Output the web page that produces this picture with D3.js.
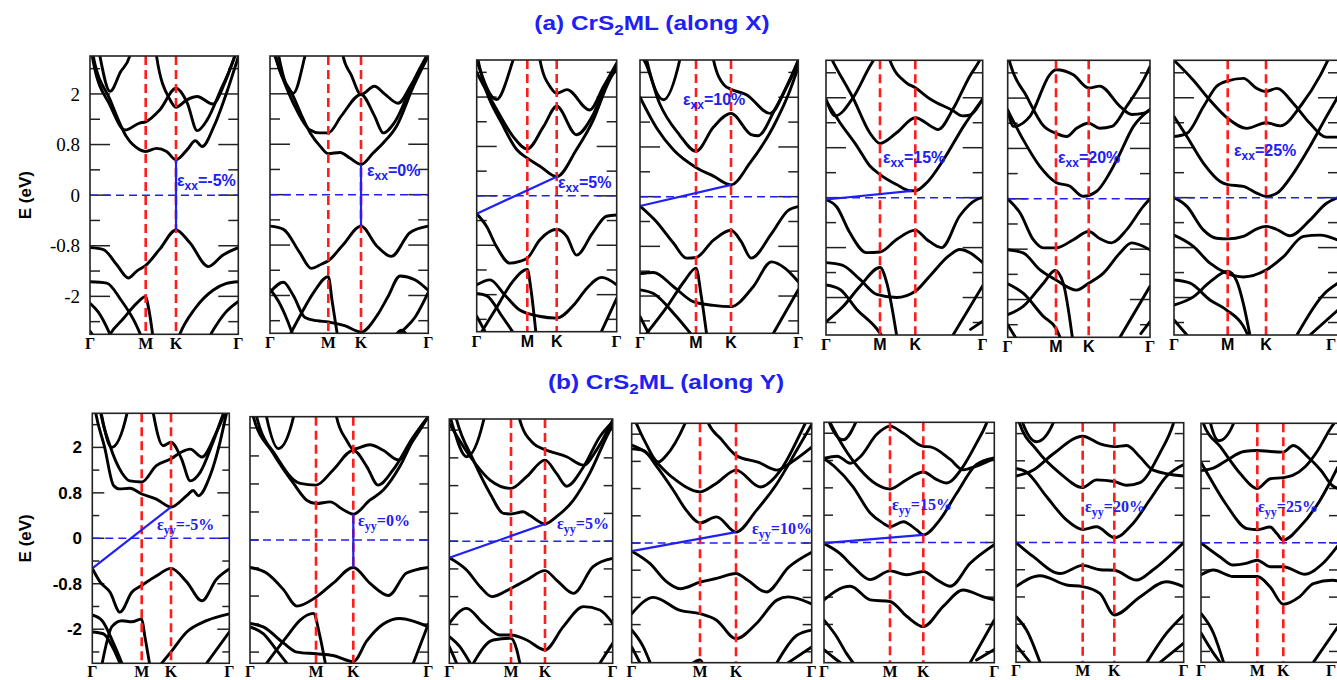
<!DOCTYPE html>
<html><head><meta charset="utf-8">
<script src="https://cdn.jsdelivr.net/npm/d3@7"></script>
<style>body{margin:0;background:#fff}</style>
</head><body>
<svg id="chart" width="1337" height="680"></svg>
<script>
// ---------------- DATA ----------------
const kLabels = ["Γ","M","K","Γ"];
const kPoints = [0,1,2,3];
const tickValues = [1.6,0.8,0,-0.8,-1.6];
const tickLabels = ["2","0.8","0","-0.8","-2"];
const strainA = ["-5%","0%","5%","10%","15%","20%","25%"];
const strainB = ["-5%","0%","5%","10%","15%","20%","25%"];
const titleA = ["(a) CrS","2","ML (along X)"];
const titleB = ["(b) CrS","2","ML (along Y)"];

// bands: each band = list of [k (Γ=0,M=1,K=2,Γ=3), E (eV)]
const bandsXm5 = [
 [[0,-0.83],[0.24,-0.86],[0.48,-1.1],[0.69,-1.31],[0.84,-1.2],[1,-1.11],[1.47,-0.85],[2,-0.55],[2.22,-0.75],[2.52,-1.13],[2.75,-0.95],[3,-0.83]],
 [[0,-1.37],[0.3,-1.39],[0.55,-1.65],[0.8,-2.0],[1,-2.4]],
 [[1.9,-2.5],[2.06,-2.2],[2.3,-1.8],[2.6,-1.5],[2.8,-1.4],[3,-1.37]],
 [[0,-1.71],[0.15,-1.85],[0.36,-2.2],[0.5,-2.5]],
 [[0.2,-2.5],[0.36,-2.2],[0.6,-1.95],[0.85,-1.7],[1,-1.6],[1.08,-1.75],[1.2,-2.1],[1.3,-2.5]],
 [[2.45,-2.4],[2.6,-2.13],[2.8,-1.85],[3,-1.68]],
 [[0,-2.15],[0.12,-2.3]],
 [[0,2.6],[0.06,2.19],[0.36,1.51],[0.65,0.93],[0.89,0.72],[1,0.69],[1.36,0.74],[1.69,0.69],[2,0.56],[2.18,0.72],[2.31,0.86],[2.42,0.77],[2.61,1.09],[2.83,1.67],[3,2.19]],
 [[0,2.5],[0.06,2.1],[0.36,1.42],[0.63,1.03],[0.89,1.14],[1,1.16],[1.47,1.35],[2,1.69],[2.18,1.46],[2.34,1.02],[2.5,1.19],[2.72,1.67],[2.94,2.19],[3,2.4]],
 [[1.25,2.6],[1.36,2.19],[1.8,1.51],[2,1.39],[2.18,1.51],[2.34,1.56],[2.59,1.44],[2.78,1.77],[2.94,2.19],[3,2.35]],
 [[0.1,2.6],[0.18,2.19],[0.36,1.64],[0.55,1.95],[0.71,2.19],[0.78,2.5]]
];
const bandsX0 = [
 [[0,-0.5],[0.23,-0.55],[0.51,-0.92],[0.71,-1.17],[0.89,-1.1],[1,-1.05],[1.46,-0.79],[2,-0.5],[2.23,-0.81],[2.45,-0.98],[2.73,-0.6],[3,-0.5]],
 [[0,-1.55],[0.23,-1.39],[0.4,-1.6],[0.6,-1.95],[0.8,-2.0],[1,-2.02],[1.5,-2.08],[2,-2.18],[2.25,-1.9],[2.4,-1.62],[2.58,-1.29],[2.8,-1.35],[3,-1.52]],
 [[0,-1.5],[0.15,-1.7],[0.3,-2.0],[0.42,-2.3]],
 [[0.3,-2.3],[0.5,-1.95],[0.75,-1.55],[1,-1.3],[1.12,-1.7],[1.3,-2.3]],
 [[2.4,-2.4],[2.6,-2.18],[2.8,-1.95],[3,-1.55]],
 [[2.5,-2.25],[2.6,-2.15],[2.7,-2.25]],
 [[0.05,2.5],[0.1,2.2],[0.4,1.56],[0.69,0.98],[0.86,0.77],[1,0.65],[1.36,0.67],[1.66,0.58],[2,0.48],[2.18,0.66],[2.33,0.82],[2.53,1.09],[2.78,1.72],[3,2.2]],
 [[0,2.45],[0.05,2.3],[0.4,1.45],[0.68,1.03],[0.85,0.98],[1,0.98],[1.4,1.25],[2,1.59],[2.2,1.25],[2.33,0.98],[2.5,1.15],[2.8,1.85],[3,2.25]],
 [[1.4,2.5],[1.45,2.2],[1.7,1.9],[2,1.59],[2.2,1.72],[2.35,1.6],[2.55,1.45],[2.75,1.75],[3,2.2]],
 [[0.1,2.5],[0.15,2.2],[0.4,1.61],[0.6,2.2],[0.7,2.6]]
];
const bandsX5 = [
 [[0,-0.29],[0.2,-0.5],[0.39,-0.82],[0.66,-1.09],[0.85,-1.06],[1,-1.01],[1.43,-0.71],[2,-0.54],[2.17,-0.66],[2.33,-0.96],[2.6,-0.6],[2.83,-0.33],[3,-0.31]],
 [[0.1,-2.2],[0.4,-1.8],[0.7,-1.4],[1,-1.19],[1.12,-1.5],[1.3,-2.25]],
 [[0,-1.44],[0.26,-1.36],[0.55,-1.6],[0.85,-1.85],[1.4,-1.95],[2,-1.98],[2.3,-1.75],[2.5,-1.5],[2.75,-1.32],[3,-1.44]],
 [[0,-1.58],[0.2,-1.62],[0.5,-1.95],[0.75,-2.25]],
 [[0,-1.95],[0.2,-2.25]],
 [[2.72,-2.25],[3,-1.66]],
 [[0,2.3],[0.07,2.04],[0.53,1.12],[0.79,0.75],[1,0.61],[1.43,0.48],[2,0.31],[2.33,0.75],[2.61,1.23],[2.83,1.77],[3,2.1]],
 [[0,2.0],[0.4,1.39],[0.72,0.96],[1,0.76],[1.55,1.12],[2,1.45],[2.33,0.99],[2.6,1.3],[2.83,1.82],[3,2.05]],
 [[0,2.2],[0.39,1.56],[0.72,2.2],[0.8,2.4]],
 [[1.35,2.5],[1.43,2.2],[1.8,1.75],[2,1.66],[2.17,1.72],[2.55,1.39],[2.78,1.77],[3,2.15]]
];
const bandsX10 = [
 [[0,-0.15],[0.27,-0.38],[0.6,-0.75],[0.83,-0.99],[1,-0.98],[1.5,-0.7],[2,-0.54],[2.15,-0.72],[2.3,-0.99],[2.6,-0.6],[2.85,-0.22],[3,-0.16]],
 [[0,-1.24],[0.24,-1.22],[0.6,-1.45],[0.95,-1.69],[1.5,-1.75],[2,-1.77],[2.33,-1.45],[2.6,-1.05],[2.8,-1.15],[3,-1.37]],
 [[0.12,-2.2],[0.5,-1.75],[0.8,-1.35],[1,-1.15],[1.15,-1.6],[1.3,-2.2]],
 [[0,-1.5],[0.24,-1.56],[0.65,-1.93],[0.9,-2.2]],
 [[0,-1.93],[0.18,-2.25]],
 [[2.63,-2.2],[3,-1.5]],
 [[0,1.6],[0.3,1.1],[0.6,0.75],[1,0.47],[1.5,0.33],[2,0.19],[2.28,0.54],[2.63,1.13],[2.88,1.72],[3,2.09]],
 [[0,2.3],[0.1,2.15],[0.35,1.5],[0.7,1.0],[1,0.73],[1.5,1.12],[2,1.34],[2.3,1.0],[2.4,0.98],[2.65,1.4],[2.9,1.95],[3,2.2]],
 [[0.05,2.5],[0.12,2.2],[0.42,1.56],[0.71,2.2],[0.78,2.5]],
 [[1.4,2.5],[1.5,2.2],[1.8,1.8],[2,1.73],[2.23,1.64],[2.58,1.34],[2.83,1.77],[3,2.15]]
];
const bandsX15 = [
 [[0,-0.03],[0.2,-0.15],[0.44,-0.56],[0.75,-0.88],[1,-0.87],[1.47,-0.67],[2,-0.52],[2.17,-0.67],[2.39,-0.8],[2.66,-0.29],[2.91,-0.03],[3,0]],
 [[0,-1.04],[0.3,-1.08],[0.63,-1.31],[0.94,-1.55],[1.47,-1.6],[2,-1.5],[2.22,-1.25],[2.5,-0.93],[2.66,-0.83],[3,-1.04]],
 [[0,-1.99],[0.32,-1.74],[0.63,-1.42],[1,-1.12],[1.19,-1.36],[1.47,-2.2]],
 [[0,-1.4],[0.26,-1.47],[0.57,-1.79],[0.94,-2.1],[1.1,-2.25]],
 [[2.56,-2.2],[3,-1.41]],
 [[2.82,-2.11],[3,-1.98]],
 [[0,1.55],[0.26,1.2],[0.57,0.83],[0.81,0.51],[1,0.37],[1.47,0.21],[1.85,0.11],[2,0.11],[2.17,0.24],[2.42,0.61],[2.72,1.15],[3,1.58]],
 [[0,2.4],[0.14,2.16],[0.51,1.58],[0.81,1.04],[1,0.87],[1.47,1.04],[2,1.28],[2.27,1.12],[2.34,1.09],[2.56,1.42],[2.81,1.95],[2.95,2.19],[3,2.3]],
 [[0,1.58],[0.17,1.31],[0.5,1.6],[0.81,2.1],[0.95,2.3]],
 [[1.2,2.5],[1.28,2.2],[1.75,1.84],[2,1.76],[2.22,1.58],[2.55,1.4],[2.7,1.31],[2.8,1.32],[3,1.58]]
];
const bandsX20 = [
 [[0,0],[0.26,-0.23],[0.53,-0.65],[0.74,-0.78],[1,-0.78],[1.53,-0.65],[2,-0.52],[2.18,-0.63],[2.37,-0.7],[2.62,-0.49],[2.89,-0.12],[3,0]],
 [[0,-0.81],[0.32,-0.86],[0.67,-1.13],[1,-1.29],[1.63,-1.45],[2,-1.34],[2.24,-1.18],[2.51,-0.86],[2.7,-0.7],[3,-0.81]],
 [[0,-1.84],[0.32,-1.71],[0.74,-1.34],[0.98,-1.14],[1.22,-1.34],[1.5,-2.2]],
 [[0,-1.35],[0.32,-1.5],[0.74,-1.87],[1,-2.06],[1.2,-2.3]],
 [[0,-2.0],[0.2,-2.25]],
 [[2.51,-2.2],[3,-1.39]],
 [[2.85,-2.14],[3,-1.95]],
 [[0,1.41],[0.32,0.94],[0.67,0.51],[1,0.26],[1.43,0.2],[1.73,0.06],[1.84,0.04],[2.13,0.12],[2.46,0.62],[2.73,1.15],[3,1.42]],
 [[0,2.3],[0.05,2.15],[0.39,1.63],[0.74,1.16],[1,1.04],[1.33,0.99],[1.63,1.12],[2,1.2],[2.18,1.12],[2.38,1.15],[2.62,1.47],[2.9,1.9],[3,2.1]],
 [[0,1.41],[0.12,1.15],[0.46,1.31],[0.88,1.98],[1,2.05],[1.53,1.97],[2,1.76],[2.18,1.79],[2.51,1.47],[2.7,1.34],[2.9,1.36],[3,1.41]]
];
const bandsX25 = [
 [[0,0],[0.24,-0.14],[0.55,-0.52],[0.79,-0.65],[1,-0.66],[1.41,-0.62],[1.76,-0.5],[2,-0.46],[2.15,-0.51],[2.33,-0.61],[2.61,-0.36],[2.84,-0.09],[3,0]],
 [[0,-0.6],[0.36,-0.78],[0.67,-1.05],[0.98,-1.21],[1.41,-1.27],[2,-1.16],[2.24,-0.95],[2.52,-0.62],[2.75,-0.6],[3,-0.68]],
 [[0,-1.72],[0.36,-1.59],[0.67,-1.35],[1,-1.18],[1.23,-1.33],[1.41,-1.7],[1.58,-2.2]],
 [[0,-1.32],[0.3,-1.37],[0.67,-1.64],[0.98,-1.8],[1.4,-2.05],[1.6,-2.3]],
 [[0,-1.96],[0.24,-2.2]],
 [[2.43,-2.2],[2.8,-1.55],[3,-1.37]],
 [[2.61,-2.2],[3,-1.8]],
 [[0,1.3],[0.24,0.98],[0.55,0.55],[0.86,0.26],[1,0.21],[1.41,0.18],[1.8,0.06],[2,0.02],[2.15,0.07],[2.38,0.39],[2.61,0.82],[2.84,1.3],[3,1.62]],
 [[0,0.98],[0.24,1.03],[0.55,1.46],[0.79,1.78],[1,1.87],[1.41,1.91],[1.76,1.75],[2,1.7],[2.15,1.75],[2.38,1.51],[2.61,1.19],[2.84,0.97],[3,0.97]],
 [[0,2.2],[0.36,1.88],[0.67,1.56],[1,1.27],[1.5,1.11],[2,1.2],[2.2,1.15],[2.5,1.5],[2.75,1.95],[2.9,2.3]]
];
const bandsYm5 = [
 [[0,-0.53],[0.16,-0.77],[0.36,-0.95],[0.56,-1.3],[0.8,-0.95],[1,-0.83],[1.51,-0.66],[2,-0.53],[2.27,-0.77],[2.53,-1.1],[2.78,-0.72],[3,-0.54]],
 [[0,-1.35],[0.2,-1.45],[0.43,-1.85],[0.6,-2.2]],
 [[0.2,-2.2],[0.4,-1.55],[0.6,-1.45],[0.8,-1.47],[1,-1.42],[1.1,-1.7],[1.3,-2.3]],
 [[1.6,-2.25],[2,-2.0],[2.27,-1.65],[2.61,-1.45],[3,-1.33]],
 [[0,-1.65],[0.22,-1.68],[0.43,-1.95],[0.56,-2.2]],
 [[2.61,-2.2],[3,-1.65]],
 [[0,2.6],[0.05,2.3],[0.25,1.6],[0.43,0.93],[0.55,0.87],[0.76,0.88],[1,0.78],[1.5,0.69],[2,0.55],[2.27,0.75],[2.38,0.84],[2.47,0.75],[2.67,1.1],[2.84,1.69],[2.95,2.19],[3,2.4]],
 [[0.1,2.6],[0.15,2.3],[0.35,1.65],[0.6,1.15],[0.76,1.01],[1,0.99],[1.5,1.28],[2,1.4],[2.18,1.52],[2.33,1.57],[2.53,1.43],[2.78,1.87],[2.92,2.2]],
 [[1.3,2.5],[1.39,2.22],[1.73,1.63],[2,1.69],[2.18,1.4],[2.33,1.01],[2.5,1.16],[2.72,1.69],[2.9,2.2],[3,2.45]],
 [[0.12,2.5],[0.19,2.16],[0.39,1.6],[0.7,2.19],[0.75,2.4]]
];
const bandsY0 = [
 [[0,-0.49],[0.25,-0.59],[0.51,-0.89],[0.71,-1.18],[1,-1.02],[1.46,-0.77],[2,-0.49],[2.22,-0.77],[2.47,-0.99],[2.71,-0.59],[3,-0.49]],
 [[0,-1.49],[0.2,-1.55],[0.51,-1.84],[0.71,-2.0],[1,-2.03],[1.46,-2.06],[2,-2.17],[2.18,-1.8],[2.4,-1.5],[2.62,-1.4],[3,-1.55]],
 [[0.25,-2.2],[0.56,-1.72],[0.76,-1.43],[0.96,-1.31],[1.1,-1.7],[1.25,-2.2]],
 [[0,-1.55],[0.2,-1.67],[0.4,-1.96],[0.56,-2.2]],
 [[2.8,-2.2],[3,-1.5]],
 [[0,2.5],[0.05,2.2],[0.35,1.55],[0.66,1.01],[0.86,0.71],[1,0.65],[1.38,0.68],[1.73,0.54],[2,0.46],[2.22,0.71],[2.4,0.89],[2.62,1.31],[2.84,1.9],[3,2.2]],
 [[0.05,2.5],[0.1,2.2],[0.4,1.49],[0.76,1.01],[1,0.98],[1.46,1.25],[2,1.6],[2.18,1.31],[2.33,0.98],[2.53,1.25],[2.8,1.84],[3,2.2]],
 [[0.2,2.5],[0.25,2.2],[0.43,1.63],[0.66,2.2],[0.7,2.5]],
 [[1.5,2.5],[1.55,2.2],[1.82,1.78],[2,1.62],[2.22,1.7],[2.4,1.6],[2.6,1.43],[2.8,1.78],[3,2.2]]
];
const bandsY5 = [
 [[0,-0.3],[0.28,-0.52],[0.5,-0.82],[0.69,-1.0],[1,-0.85],[1.46,-0.7],[2,-0.53],[2.17,-0.7],[2.42,-0.94],[2.71,-0.46],[3,-0.31]],
 [[0,-1.48],[0.28,-1.21],[0.55,-1.48],[0.82,-1.69],[1,-1.69],[1.46,-1.78],[2,-1.96],[2.27,-1.54],[2.57,-1.18],[2.81,-1.24],[3,-1.48]],
 [[0.39,-2.2],[0.71,-1.78],[1,-1.75],[1.17,-1.96],[1.26,-2.2]],
 [[0,-1.72],[0.17,-1.9],[0.34,-2.2]],
 [[0,-1.9],[0.12,-2.2]],
 [[2.81,-2.2],[3,-1.84]],
 [[0.05,2.5],[0.12,2.18],[0.39,1.46],[0.66,0.86],[0.88,0.5],[1,0.49],[1.36,0.53],[1.56,0.46],[2,0.31],[2.17,0.44],[2.42,0.74],[2.66,1.22],[2.91,1.88],[3,2.1]],
 [[0,2.12],[0.34,1.52],[0.66,1.1],[1,0.95],[1.46,1.16],[2,1.46],[2.17,1.22],[2.32,0.99],[2.57,1.34],[2.81,1.88],[3,2.15]],
 [[0,2.3],[0.05,2.1],[0.28,1.52],[0.55,2.15],[0.6,2.4]],
 [[1.2,2.5],[1.26,2.18],[1.66,1.76],[2,1.65],[2.32,1.52],[2.57,1.37],[2.76,1.64],[3,2.18]]
];
const bandsY10 = [
 [[0,-0.15],[0.27,-0.38],[0.5,-0.7],[0.71,-0.84],[1,-0.72],[1.46,-0.65],[2,-0.56],[2.15,-0.68],[2.4,-0.9],[2.7,-0.44],[3,-0.17]],
 [[0,-1.3],[0.32,-1.0],[0.71,-1.24],[1,-1.3],[1.46,-1.42],[2,-1.76],[2.27,-1.48],[2.54,-1.05],[2.69,-0.99],[3,-1.12]],
 [[0,-1.6],[0.17,-1.91],[0.27,-2.2]],
 [[0,-1.91],[0.12,-2.2]],
 [[0.85,-2.25],[1,-2.15],[1.1,-2.25]],
 [[2.54,-2.2],[2.8,-1.7],[3,-1.6]],
 [[2.69,-2.2],[3,-1.91]],
 [[0,1.73],[0.17,1.7],[0.37,1.4],[0.61,0.97],[0.8,0.6],[1,0.37],[1.46,0.48],[2,0.2],[2.27,0.6],[2.54,1.09],[2.8,1.7],[3,2.18]],
 [[0,1.8],[0.17,1.7],[0.59,1.21],[1,0.94],[1.46,1.1],[2,1.34],[2.32,1.03],[2.59,1.34],[2.87,2.07],[2.95,2.3]],
 [[1.15,2.4],[1.2,2.25],[1.6,1.9],[2,1.61],[2.3,1.48],[2.54,1.34],[2.75,1.5],[3,1.76]],
 [[0,2.4],[0.05,2.25],[0.2,1.85],[0.39,1.49],[0.5,1.6],[0.8,2.25],[0.85,2.4]]
];
const bandsY15 = [
 [[0,-0.02],[0.24,-0.2],[0.44,-0.44],[0.7,-0.68],[1,-0.52],[1.5,-0.59],[2,-0.53],[2.19,-0.68],[2.38,-0.8],[2.66,-0.38],[3,-0.04]],
 [[0,-1.05],[0.29,-0.82],[0.4,-0.8],[0.7,-1.05],[1,-1.08],[1.5,-1.35],[2,-1.54],[2.28,-1.17],[2.56,-0.87],[2.84,-0.99],[3,-1.05]],
 [[0,-1.42],[0.19,-1.72],[0.34,-2.03],[0.44,-2.2]],
 [[0,-1.96],[0.14,-2.1],[0.25,-2.2]],
 [[2.66,-2.2],[3,-1.42]],
 [[2.75,-2.15],[3,-1.96]],
 [[0,1.54],[0.15,1.4],[0.44,1.02],[0.7,0.54],[0.9,0.35],[1,0.29],[1.4,0.38],[1.8,0.23],[2,0.14],[2.23,0.41],[2.47,0.9],[2.75,1.43],[3,1.55]],
 [[0,1.54],[0.2,1.58],[0.4,1.45],[0.55,1.57],[0.8,1.98],[1,2.13],[1.4,2.0],[2,1.76],[2.1,1.75],[2.38,1.52],[2.56,1.33],[2.75,1.4],[3,1.54]],
 [[0.09,2.2],[0.29,1.76],[0.55,1.33],[0.8,1.06],[1,0.98],[1.5,1.15],[2,1.29],[2.19,1.15],[2.33,1.09],[2.56,1.39],[2.75,1.82],[2.89,2.18],[2.95,2.4]],
 [[0,2.5],[0.05,2.3],[0.29,1.88],[0.5,2.25],[0.55,2.4]]
];
const bandsY20 = [
 [[0,0],[0.26,-0.26],[0.66,-0.57],[1,-0.42],[1.55,-0.5],[2,-0.51],[2.32,-0.69],[2.56,-0.5],[3,0]],
 [[0,-0.81],[0.36,-0.61],[0.76,-0.78],[1,-0.81],[1.55,-0.94],[2,-1.33],[2.37,-1.0],[2.75,-0.72],[3,-0.81]],
 [[0,-1.36],[0.16,-1.61],[0.36,-2.2]],
 [[0,-1.88],[0.21,-2.2]],
 [[2.47,-2.2],[2.75,-1.67],[3,-1.33]],
 [[2.66,-2.2],[3,-1.85]],
 [[0,1.36],[0.15,1.3],[0.46,0.84],[0.76,0.41],[1,0.24],[1.44,0.29],[2,0.09],[2.27,0.35],[2.51,0.78],[2.75,1.21],[3,1.43]],
 [[0,1.22],[0.26,1.33],[0.56,1.63],[1,1.95],[1.55,1.81],[2,1.76],[2.18,1.78],[2.37,1.57],[2.56,1.33],[3,1.22]],
 [[0,2.4],[0.05,2.2],[0.31,1.7],[0.66,1.27],[1,1.01],[1.44,1.15],[2,1.12],[2.18,1.05],[2.37,1.1],[2.66,1.65],[2.85,2.18],[2.9,2.4]],
 [[0.05,2.4],[0.1,2.2],[0.31,1.85],[0.56,2.2],[0.6,2.4]]
];
const bandsY25 = [
 [[0,0],[0.34,-0.26],[0.57,-0.41],[0.8,-0.38],[1,-0.32],[1.49,-0.44],[2,-0.44],[2.4,-0.58],[2.7,-0.4],[3,-0.05]],
 [[0,-0.59],[0.22,-0.5],[0.57,-0.62],[1,-0.62],[1.49,-0.81],[2,-1.13],[2.3,-0.99],[2.55,-0.75],[2.9,-0.69],[3,-0.7]],
 [[0,-1.3],[0.22,-1.66],[0.4,-2.2]],
 [[0,-1.66],[0.22,-2.03],[0.34,-2.2]],
 [[2.55,-2.2],[3,-1.54]],
 [[0,1.48],[0.1,1.3],[0.45,0.7],[0.82,0.26],[1,0.24],[1.49,0.29],[1.75,0.17],[2,0.05],[2.3,0.29],[2.67,0.78],[3,1.4]],
 [[0,1.33],[0.23,1.38],[0.46,1.52],[0.76,1.68],[1,1.7],[1.5,1.68],[2,1.67],[2.18,1.79],[2.46,1.57],[2.69,1.33],[2.9,1.05],[3,1.0]],
 [[0,2.4],[0.05,2.18],[0.35,1.76],[0.7,1.27],[1,1.0],[1.5,1.18],[2,1.2],[2.17,1.24],[2.4,1.4],[2.63,1.7],[2.86,2.1],[3,2.3]],
 [[0.12,2.5],[0.17,2.2],[0.32,1.88],[0.58,2.2],[0.62,2.4]]
];
// band-gap connectors (VBM -> CBM), null when not drawn
const gapA = [[[2,0.56],[2,-0.55]],[[2,0.48],[2,-0.5]],[[0,-0.29],[2,0.31]],[[0,-0.15],[2,0.19]],[[0,-0.03],[1.9,0.11]],null,null];
const gapB = [[[0,-0.53],[2,0.55]],[[2,0.46],[2,-0.49]],[[0,-0.3],[2,0.31]],[[0,-0.15],[2,0.2]],[[0,-0.01],[2,0.14]],null,null];
const bandsA = [bandsXm5,bandsX0,bandsX5,bandsX10,bandsX15,bandsX20,bandsX25];
const bandsB = [bandsYm5,bandsY0,bandsY5,bandsY10,bandsY15,bandsY20,bandsY25];

// ---------------- LAYOUT ----------------
const eMax = 2.2;
const layoutA = [
 {x:[90,145.7,176,238.3],y0:56,y1:334.3,step:0.4,lab:[177,186]},
 {x:[270,328.3,361,428.3],y0:56,y1:333.3,step:0.4,lab:[367,176]},
 {x:[476.7,527.3,556.7,616.7],y0:60,y1:331.7,step:0.4,lab:[558,188]},
 {x:[640,696,731,798.3],y0:60,y1:333.3,step:0.4,lab:[683,105]},
 {x:[826,880,915.3,982.7],y0:60.3,y1:335,step:0.4,lab:[883,163]},
 {x:[1007.7,1056,1088.7,1150],y0:60.3,y1:337.3,step:0.4,lab:[1058,163]},
 {x:[1174,1227.7,1266,1338],y0:60.3,y1:335,step:0.4,lab:[1234,156]}
];
const layoutB = [
 {x:[92.3,141.7,171,229.3],y0:413.3,y1:663.3,step:0.4,lab:[157,530]},
 {x:[250,316,353.3,428.3],y0:416.7,y1:663.3,step:0.5,lab:[358,526]},
 {x:[449.3,511,545,612.7],y0:419,y1:663.3,step:0.5,lab:[557,529]},
 {x:[631.7,700,736,811.7],y0:423.3,y1:662.7,step:0.5,lab:[752,534]},
 {x:[824,890,923.3,994.3],y0:422.3,y1:662.7,step:0.5,lab:[892,510]},
 {x:[1016,1082.7,1114.3,1183.7],y0:422.7,y1:662.3,step:0.5,lab:[1085,512]},
 {x:[1201,1257.3,1283.3,1338],y0:423.3,y1:662.3,step:0.5,lab:[1258,512]}
];

const BLUE = "#2020f5", RED = "#ff1c1c";
const W = 1337;
const svg = d3.select("#chart");
let clipId = 0;

function drawPanel(L, bands, gap, strain, comp, row, idx) {
  const kx = d3.scaleLinear().domain(kPoints).range(L.x);
  const y = d3.scaleLinear().domain([-eMax, eMax]).range([L.y1, L.y0]);
  const X0 = L.x[0], X1 = L.x[3];
  const g = svg.append("g");
  const cid = "clip" + (clipId++);
  g.append("clipPath").attr("id", cid).append("rect")
    .attr("x", X0).attr("y", L.y0).attr("width", X1 - X0).attr("height", L.y1 - L.y0);
  // ticks
  const tv = d3.range(-2.0, 2.0001, L.step);
  const isMajor = v => L.step === 0.4 && Math.abs(v / 0.8 - Math.round(v / 0.8)) < 1e-6;
  const majLen = row === "a" ? 20 : 12, minLen = row === "a" ? 10 : 7;
  const tickLen = v => L.step === 0.5 ? 9 : (isMajor(v) ? majLen : minLen);
  g.selectAll(".tl").data(tv).join("line")
    .attr("x1", X0).attr("x2", v => X0 + tickLen(v))
    .attr("y1", v => y(v)).attr("y2", v => y(v))
    .attr("stroke", "#222").attr("stroke-width", 1.5);
  g.selectAll(".tr").data(tv).join("line")
    .attr("x1", X1).attr("x2", v => X1 - tickLen(v))
    .attr("y1", v => y(v)).attr("y2", v => y(v))
    .attr("stroke", "#222").attr("stroke-width", 1.5);
  // bands
  const line = d3.line().x(d => kx(d[0])).y(d => y(d[1])).curve(d3.curveMonotoneX);
  g.append("g").attr("clip-path", `url(#${cid})`).selectAll("path").data(bands).join("path")
    .attr("d", line).attr("fill", "none").attr("stroke", "#000")
    .attr("stroke-width", 2.9).attr("stroke-linejoin", "round").attr("stroke-linecap", "round");
  // Fermi level
  g.append("line").attr("x1", X0).attr("x2", X1).attr("y1", y(0)).attr("y2", y(0))
    .attr("stroke", BLUE).attr("stroke-width", 1.5).attr("stroke-dasharray", "8,5");
  // high symmetry lines M, K
  g.selectAll(".hs").data([1, 2]).join("line")
    .attr("x1", d => kx(d)).attr("x2", d => kx(d)).attr("y1", L.y0).attr("y2", L.y1)
    .attr("stroke", RED).attr("stroke-width", 2.6).attr("stroke-dasharray", "9,5");
  // gap line
  if (gap) {
    g.append("path").attr("d", d3.line().x(d => kx(d[0])).y(d => y(d[1]))(gap))
      .attr("stroke", BLUE).attr("stroke-width", 2.2).attr("fill", "none");
  }
  // border
  g.append("rect").attr("x", X0).attr("y", L.y0).attr("width", X1 - X0).attr("height", L.y1 - L.y0)
    .attr("fill", "none").attr("stroke", "#222").attr("stroke-width", 1.6);
  // k labels
  const serifMK = row === "b" || idx < 2;
  g.selectAll(".kl").data(kPoints).join("text")
    .attr("x", d => Math.min(kx(d), W - 6)).attr("y", L.y1 + (row === "a" ? 15 : 14))
    .attr("text-anchor", "middle")
    .attr("font-family", (d, i) => (i === 0 || i === 3 || serifMK) ? "Liberation Serif, serif" : "Liberation Sans, Arial, sans-serif")
    .attr("font-weight", "bold").attr("font-size", 16)
    .text((d, i) => kLabels[i]);
  // strain label
  const t = g.append("text").attr("x", L.lab[0]).attr("y", L.lab[1]).attr("fill", BLUE)
    .attr("font-weight", "bold").attr("font-size", 16)
    .attr("font-family", row === "a" ? "Liberation Sans, Arial, sans-serif" : "Liberation Serif, serif");
  t.append("tspan").text("ε");
  t.append("tspan").attr("dy", 4).attr("font-size", 12).text(comp);
  t.append("tspan").attr("dy", -4).text("=" + strain);
  // y tick labels on first panel of each row
  if (idx === 0) {
    svg.selectAll(null).data(tickValues).join("text")
      .attr("x", row === "a" ? 80 : 82).attr("y", v => y(v)).attr("dy", "0.35em")
      .attr("text-anchor", "end")
      .attr("font-family", row === "a" ? "Liberation Serif, serif" : "Liberation Sans, Arial, sans-serif")
      .attr("font-weight", row === "a" ? "normal" : "bold")
      .attr("font-size", row === "a" ? 19 : 17)
      .text((v, i) => tickLabels[i]);
    svg.append("text").attr("transform", `translate(31,${y(0)}) rotate(-90)`)
      .attr("text-anchor", "middle").attr("font-family", "Liberation Sans, Arial, sans-serif")
      .attr("font-weight", "bold").attr("font-size", 17).text("E (eV)");
  }
}

layoutA.forEach((L, i) => drawPanel(L, bandsA[i], gapA[i], strainA[i], "xx", "a", i));
layoutB.forEach((L, i) => drawPanel(L, bandsB[i], gapB[i], strainB[i], "yy", "b", i));

function title(parts, cx, by) {
  const t = svg.append("text").attr("transform", `translate(${cx},${by}) scale(1.22,1)`)
    .attr("text-anchor", "middle")
    .attr("fill", BLUE).attr("font-family", "Liberation Sans, Arial, sans-serif")
    .attr("font-weight", "bold").attr("font-size", 20);
  t.append("tspan").text(parts[0]);
  t.append("tspan").attr("dy", 5).attr("font-size", 14).text(parts[1]);
  t.append("tspan").attr("dy", -5).text(parts[2]);
}
title(titleA, 652, 30);
title(titleB, 666, 389);
</script>
</body></html>
